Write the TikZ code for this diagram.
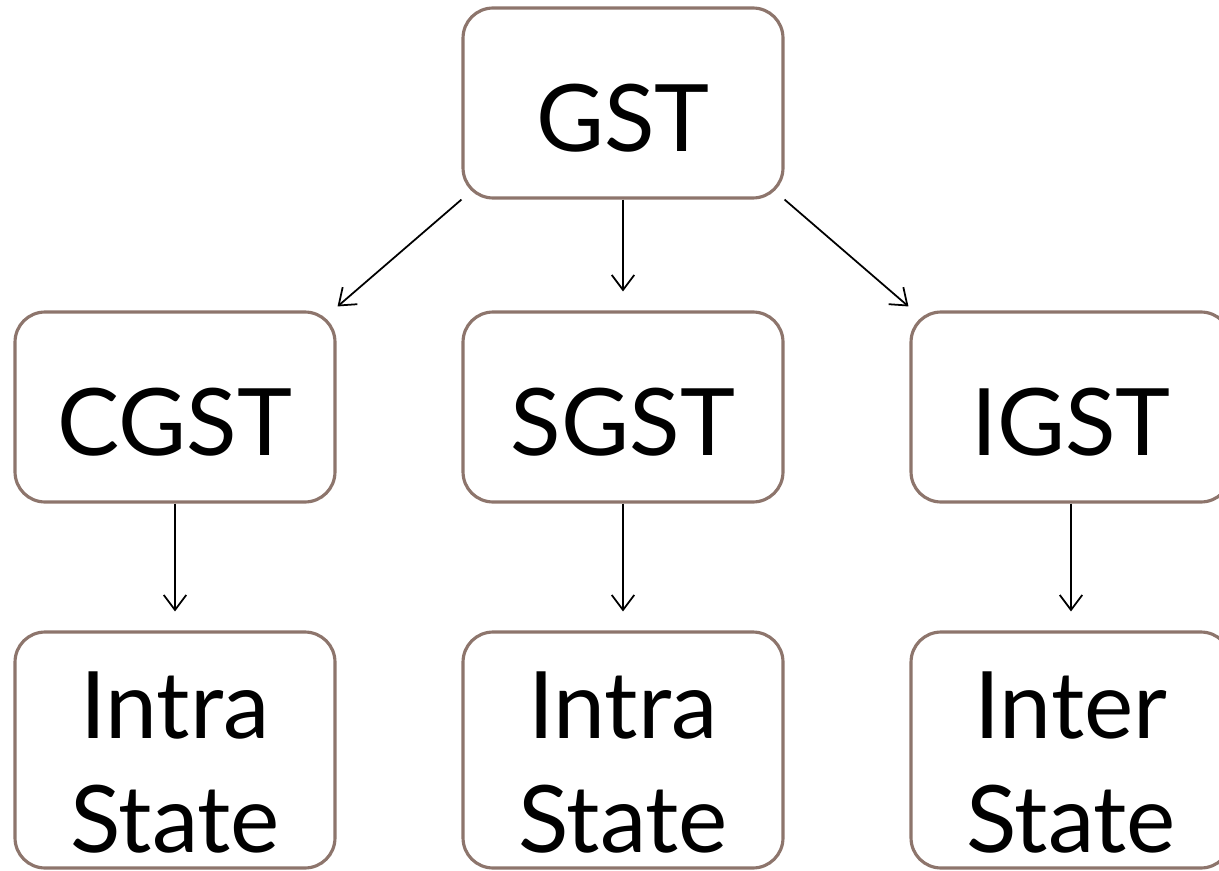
\documentclass[tikz,border=0pt]{standalone}
\usepackage{fontspec}
\setmainfont{Lato}
\usetikzlibrary{arrows.meta}

\definecolor{boxline}{RGB}{141,117,108}

\tikzset{
  taxbox/.style={draw=boxline, line width=1.8pt, rounded corners=0.6cm, fill=white,
    minimum width=6.4cm, minimum height=3.8cm, inner sep=0pt,
    text height=55pt, text depth=0pt,
    font=\fontsize{53}{65}\selectfont},
  leafbox/.style={draw=boxline, line width=1.8pt, rounded corners=0.6cm, fill=white,
    minimum width=6.4cm, minimum height=4.72cm, inner sep=0pt, align=center,
    text height=117pt,
    font=\fontsize{53}{65}\selectfont},
  link/.style={black, line width=1pt, -{Straight Barb[length=0.3cm,width=0.45cm]}}
}

\begin{document}
\begin{tikzpicture}[x=0.02cm, y=-0.02cm]

\useasboundingbox (0,0) rectangle (1219,871);
\clip (0,0) rectangle (1219,871);

\node[taxbox] (gst) at (623,103) {GST};

\node[taxbox] (cgst) at (175,407) {CGST};
\node[taxbox] (sgst) at (623,407) {SGST};
\node[taxbox] (igst) at (1071,407) {IGST};

\node[leafbox] (cgstleaf) at (175,750) {Intra\\State};
\node[leafbox] (sgstleaf) at (623,750) {Intra\\State};
\node[leafbox] (igstleaf) at (1071,750) {Inter\\State};

\draw[link] (gst.south west) -- ([shift={(1,-4)}]cgst.north east);
\draw[link, shorten >=19*0.02cm] (gst.south) -- (sgst.north);
\draw[link] (gst.south east) -- ([shift={(-1,-4)}]igst.north west);

\draw[link, shorten >=19*0.02cm] (cgst.south) -- (cgstleaf.north);
\draw[link, shorten >=19*0.02cm] (sgst.south) -- (sgstleaf.north);
\draw[link, shorten >=19*0.02cm] (igst.south) -- (igstleaf.north);

\end{tikzpicture}
\end{document}
